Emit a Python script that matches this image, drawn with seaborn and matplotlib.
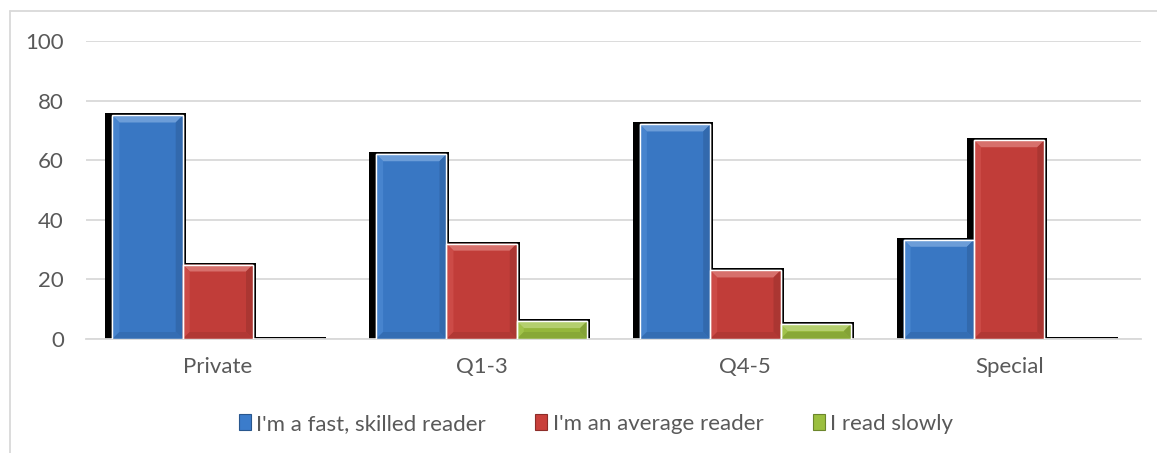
import numpy as np
import pandas as pd
import matplotlib
matplotlib.use("Agg")
import matplotlib.pyplot as plt
from matplotlib.patches import Polygon, Rectangle, Patch
from matplotlib.lines import Line2D
from matplotlib.transforms import IdentityTransform
import matplotlib.colors as mcolors
import seaborn as sns

categories = ["Private", "Q1-3", "Q4-5", "Special"]
series = ["I'm a fast, skilled reader", "I'm an average reader", "I read slowly"]
fast = [75, 62, 72, 33.3]
average = [25, 32, 23, 66.7]
slow = [0, 6, 5, 0]
colors = ["#3B7CCB", "#C9403B", "#9BBF3F"]

df = pd.DataFrame({
    "group": categories * 3,
    "series": [s for s in series for _ in categories],
    "value": fast + average + slow,
})

sns.set_theme(style="white")
plt.rcParams["font.family"] = ["Lato", "DejaVu Sans"]
text_col = "#595959"

fig = plt.figure(figsize=(11.57, 4.53), dpi=100)
ax = fig.add_axes([86 / 1157, 1 - 339 / 453, 1055 / 1157, 298 / 453])

sns.barplot(data=df, x="group", y="value", hue="series", palette=colors,
            width=0.8, saturation=1, ax=ax, legend=False,
            edgecolor="white", linewidth=1, zorder=3)

ax.set_ylim(0, 100)
ax.set_xlim(-0.5, 3.5)
ax.set_yticks(range(0, 101, 20))
ax.yaxis.grid(True, color="#D9D9D9", linewidth=1.3)
ax.set_axisbelow(True)
for s in ["top", "right", "left"]:
    ax.spines[s].set_visible(False)
ax.spines["bottom"].set_color("#D9D9D9")
ax.spines["bottom"].set_linewidth(1.3)
ax.tick_params(axis="both", length=0, labelsize=16, labelcolor=text_col)
ax.tick_params(axis="y", pad=16)
ax.tick_params(axis="x", pad=13)
ax.set_xlabel("")
ax.set_ylabel("")


def mix(c, other, t):
    a = np.array(mcolors.to_rgb(c))
    b = np.array(mcolors.to_rgb(other))
    return tuple(a * (1 - t) + b * t)


# bevel + shadow decoration computed from each bar's geometry
ident = IdentityTransform()
for bar in list(ax.patches):
    (x0, y0), (x1, y1) = ax.transData.transform(
        [(bar.get_x(), bar.get_y()), (bar.get_x() + bar.get_width(), bar.get_y() + bar.get_height())])
    col = bar.get_facecolor()
    bar.set_facecolor(mix(col, "black", 0.04))
    ax.add_patch(Rectangle((x0 - 7, y0 - 1), (x1 - x0) + 10, (y1 - y0) + 3,
                           facecolor="black", edgecolor="none", transform=ident, zorder=2))
    h = y1 - y0
    b = min(7, h / 2)
    if h < 1:
        continue
    top = [(x0, y1), (x1, y1), (x1 - b, y1 - b), (x0 + b, y1 - b)]
    right = [(x1, y1), (x1, y0), (x1 - b, y0 + b), (x1 - b, y1 - b)]
    left = [(x0, y1), (x0 + b, y1 - b), (x0 + b, y0 + b), (x0, y0)]
    bottom = [(x0, y0), (x0 + b, y0 + b), (x1 - b, y0 + b), (x1, y0)]
    for poly, c in [(top, mix(col, "white", 0.25)), (right, mix(col, "black", 0.15)),
                    (left, mix(col, "white", 0.06)), (bottom, mix(col, "black", 0.12))]:
        ax.add_patch(Polygon(poly, closed=True, facecolor=c, edgecolor="none",
                             transform=ident, zorder=3.5))
    ax.add_patch(Rectangle((x0, y0), x1 - x0, h, facecolor="none", edgecolor="white",
                           linewidth=1, transform=ident, zorder=3.6))

# chart area border (cropped)
W, H = 1157, 453
fig.add_artist(Line2D([10 / W, 1], [1 - 11 / H, 1 - 11 / H], color="#D9D9D9", linewidth=1.3))
fig.add_artist(Line2D([10 / W, 10 / W], [0, 1 - 11 / H], color="#D9D9D9", linewidth=1.3))

handles = [Patch(facecolor=c, edgecolor=mix(c, "black", 0.3), linewidth=0.8) for c in colors]
fig.legend(handles, series, loc="center", bbox_to_anchor=(596 / W, 1 - 424 / H),
           ncol=3, frameon=False, fontsize=16, labelcolor=text_col,
           handlelength=0.55, handleheight=0.75, handletextpad=0.25, columnspacing=2.2)

fig.savefig("out.png", dpi=100, facecolor="white")
